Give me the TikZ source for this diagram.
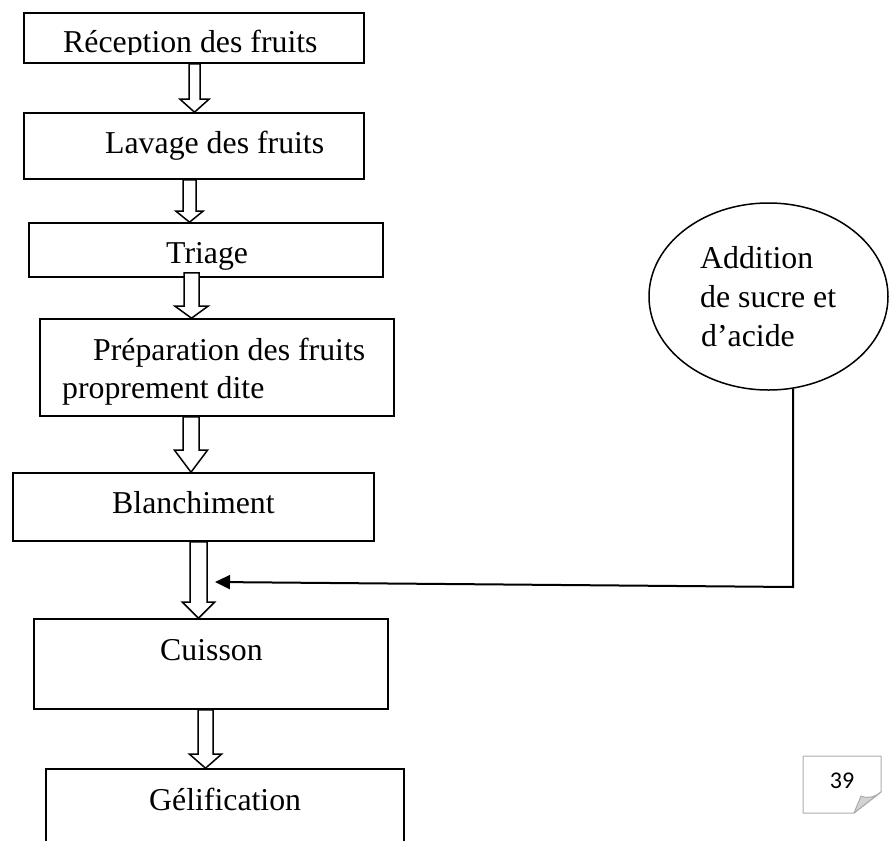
\documentclass[tikz,border=0pt]{standalone}
\usepackage{fontspec}
\setmainfont{Liberation Serif}
\newfontfamily\numfont{Carlito}
\usetikzlibrary{shapes.geometric,arrows.meta,calc}
\tikzset{
  stepbox/.style={draw, line width=1.6pt, rectangle, inner sep=0pt},
  lbl/.style={anchor=base west, inner sep=0pt, font=\fontsize{31.8}{38}\selectfont},
  blk/.style={draw, fill=white, line width=1.5pt, line join=miter},
  conn/.style={line width=2pt, -{Triangle[length=15pt,width=14pt]}},
  pgline/.style={draw=gray!65, line width=1pt, line join=round},
}
\newcommand{\blockarr}[5]{\draw[blk] let \p1=(#1), \p2=(#2) in
  (\x1-#3pt,\y1) -- (\x1-#3pt,\y2+#5pt) -- (\x1-#4pt,\y2+#5pt) -- (\x2,\y2)
  -- (\x1+#4pt,\y2+#5pt) -- (\x1+#3pt,\y2+#5pt) -- (\x1+#3pt,\y1) -- cycle;}
\begin{document}
\begin{tikzpicture}[x=1pt,y=-1pt]
\useasboundingbox (0,0) rectangle (895,841);
% boxes
\node[stepbox, minimum width=340pt, minimum height=50pt] (r1) at (194,38) {};
\node[stepbox, minimum width=340pt, minimum height=66pt] (r2) at (194,146) {};
\node[stepbox, minimum width=354pt, minimum height=54pt] (r3) at (206,250) {};
\node[stepbox, minimum width=354pt, minimum height=97pt] (r4) at (217,367.5) {};
\node[stepbox, minimum width=361pt, minimum height=68pt] (r5) at (193.5,507) {};
\node[stepbox, minimum width=354pt, minimum height=90pt] (r6) at (211,664) {};
\node[stepbox, minimum width=358pt, minimum height=110pt] (r7) at (225,824) {};
% ellipse
\node[draw, ellipse, line width=1.5pt, minimum width=239pt, minimum height=187pt, inner sep=0pt] (e) at (768.5,296.5) {};
% block arrows
\coordinate (ax1) at (194.5,0);
\coordinate (ax2) at (189.5,0);
\coordinate (ax3) at (191.5,0);
\coordinate (ax4) at (191,0);
\coordinate (ax5) at (198.5,0);
\coordinate (ax6) at (205.5,0);
\blockarr{r1.south -| ax1}{r2.north -| ax1}{5.5}{14.5}{13}
\blockarr{r2.south -| ax2}{r3.north -| ax2}{6.5}{13.5}{11}
\blockarr{$(r3.south -| ax3)+(0,-5)$}{r4.north -| ax3}{7.5}{16.5}{12}
\blockarr{r4.south -| ax4}{r5.north -| ax4}{8}{16.5}{22}
\blockarr{r5.south -| ax5}{r6.north -| ax5}{8.5}{16}{16}
\blockarr{r6.south -| ax6}{r7.north -| ax6}{7.5}{16}{14}
% connector from ellipse
\coordinate (cbend) at (793,587);
\coordinate (ctip) at (215,582);
\draw[conn] (e.-75) -- (e.-75 |- cbend) -- (ctip);
% texts
\begin{scope}
  \clip (24,13) rectangle (364,54.5);
  \node[lbl] (t1) at (63,52) {Réception des fruits};
\end{scope}
\node[lbl] (t2) at (105,153) {Lavage des fruits};
\node[lbl] (t3) at (166,263) {Triage};
\node[lbl] (t4a) at (93,360) {Préparation des fruits};
\node[lbl] (t4b) at (62,398) {proprement dite};
\node[lbl] (t5) at (112,513) {Blanchiment};
\node[lbl] (t6) at (160,660) {Cuisson};
\node[lbl] (t7) at (149,810) {Gélification};
\node[lbl] (te1) at (700,268) {Addition};
\node[lbl] (te2) at (700,307) {de sucre et};
\node[lbl] (te3) at (701,346) {d’acide};
% page number
\draw[pgline, fill=white] (803,756) -- (881,756) -- (881,792) -- (854,813) -- (803,813) -- cycle;
\draw[pgline, fill=gray!35] (854,813) -- (861,796) .. controls (868,799) and (875,797) .. (881,792) -- cycle;
\node[font=\numfont\fontsize{24}{28}\selectfont, inner sep=0pt] (pg) at (842,781) {39};
\end{tikzpicture}
\end{document}
